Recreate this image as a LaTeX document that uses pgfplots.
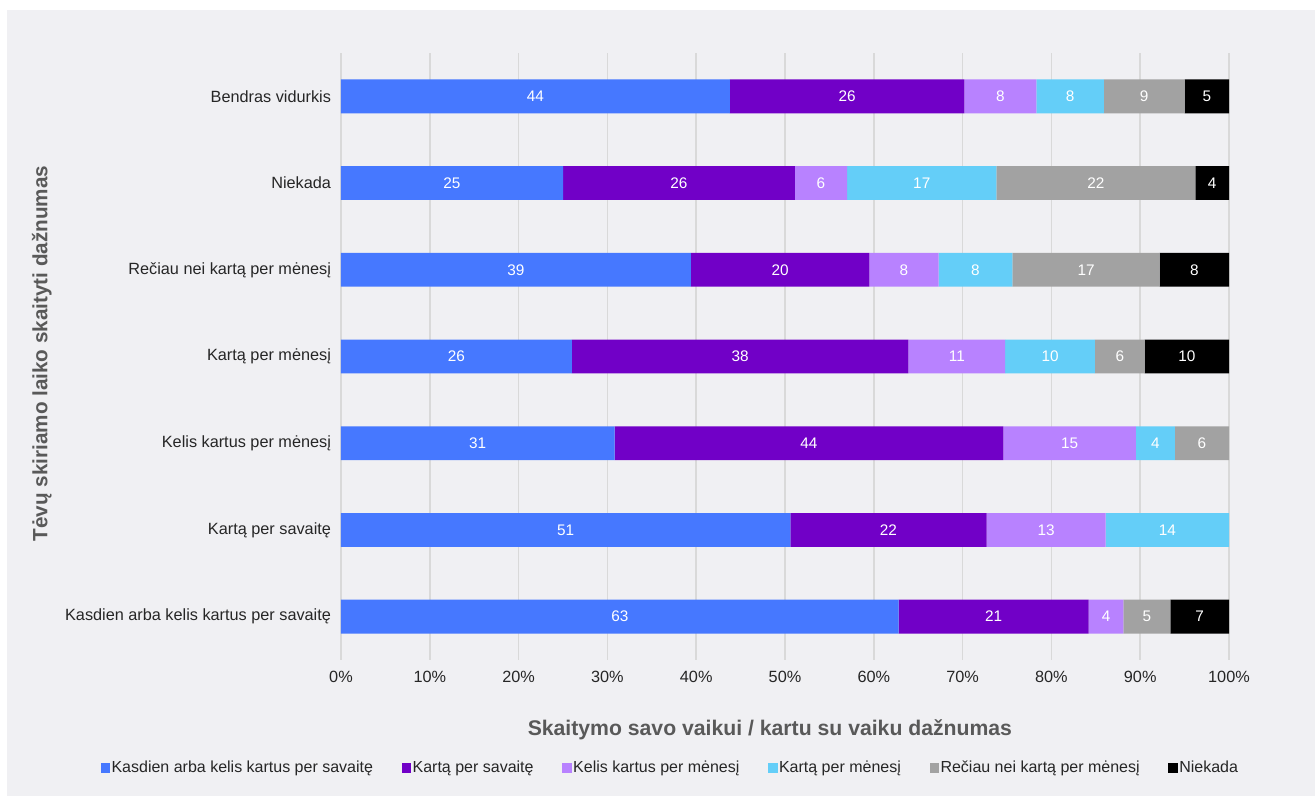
\documentclass[border=0pt]{standalone}
\usepackage{pgfplots}
\pgfplotsset{compat=1.18}
\usepackage{pgfplotstable}
\usepackage{fontspec}
\setmainfont{Liberation Sans}
\definecolor{cA}{HTML}{4678FF}
\definecolor{cB}{HTML}{7100C7}
\definecolor{cC}{HTML}{B882FF}
\definecolor{cD}{HTML}{64CEF8}
\definecolor{cE}{HTML}{A2A2A2}
\definecolor{cF}{HTML}{000000}
\definecolor{bgc}{HTML}{F0F0F3}
\definecolor{gridc}{HTML}{D9D9D9}
\definecolor{titc}{HTML}{595959}
\definecolor{txtc}{HTML}{262626}

\pgfplotstableread{
y a b c d e f
0 62.8 21.4 3.9 0 5.3 6.6
1 50.6 22.1 13.4 13.9 0 0
2 30.8 43.8 14.9 4.4 6.1 0
3 26.0 37.9 10.9 10.1 5.6 9.5
4 39.4 20.1 7.8 8.3 16.6 7.8
5 25.0 26.1 5.9 16.8 22.4 3.8
6 43.8 26.4 8.1 7.6 9.1 5.0
}\datatable

\pgfplotsset{
  seg/.style 2 args={
    fill=#1, draw=none,
    legend image code/.code={\fill[fill=#1] (0pt,-3.6pt) rectangle (7.2pt,3.6pt);},
    visualization depends on={\thisrow{#2} \as \val},
    nodes near coords={\pgfmathparse{int(\val>0.5)}\ifnum\pgfmathresult=1 \pgfmathprintnumber[fixed,precision=0]{\val}\fi},
    every node near coord/.append style={anchor=center, text=white,
      font=\fontsize{11.5}{13}\selectfont},
  }
}

\begin{document}
\begin{tikzpicture}[x=0.75pt,y=0.75pt]
\useasboundingbox (0,0) rectangle (1315,796);
\fill[white] (0,0) rectangle (1315,796);
\fill[bgc] (7,0) rectangle (1315,786);
\begin{axis}[
  at={(255.75pt,102pt)}, anchor=south west,
  scale only axis, width=666pt, height=455.25pt,
  xbar stacked, bar width=0.39,
  xmin=0, xmax=100, ymin=-0.5, ymax=6.5,
  ytick={0,...,6},
  yticklabels={Kasdien arba kelis kartus per savaitę, Kartą per savaitę, Kelis kartus per mėnesį, Kartą per mėnesį, Rečiau nei kartą per mėnesį, Niekada, Bendras vidurkis},
  xtick={0,10,...,100},
  xticklabel={\pgfmathprintnumber{\tick}\%},
  /pgf/number format/assume math mode=true,
  tick label style={font=\fontsize{12.2}{14}\selectfont, text=txtc},
  xticklabel style={yshift=-5pt},
  yticklabel style={xshift=-4pt},
  major tick length=0pt,
  axis line style={draw=none},
  xmajorgrids, grid style={gridc, line width=1.2pt},
  xlabel={Skaitymo savo vaikui / kartu su vaiku dažnumas},
  xlabel style={at={(axis description cs:0.483,-0.1153)}, anchor=center, font=\fontsize{15.9}{18}\selectfont\bfseries, text=titc},
  ylabel={Tėvų skiriamo laiko skaityti dažnumas},
  ylabel style={at={(axis description cs:-0.337,0.505)}, anchor=center, rotate=0, font=\fontsize{15.5}{18}\selectfont\bfseries, text=titc},
  legend columns=6,
  legend style={at={(axis description cs:0.3705,-0.178)}, anchor=center, draw=none, fill=none,
    font=\fontsize{12}{14}\selectfont, text=txtc,
    /tikz/every even column/.append style={column sep=20.5pt},
    nodes={inner sep=1pt}},
]
\addplot[seg={cA}{a}] table[x=a,y=y]{\datatable};
\addplot[seg={cB}{b}] table[x=b,y=y]{\datatable};
\addplot[seg={cC}{c}] table[x=c,y=y]{\datatable};
\addplot[seg={cD}{d}] table[x=d,y=y]{\datatable};
\addplot[seg={cE}{e}] table[x=e,y=y]{\datatable};
\addplot[seg={cF}{f}] table[x=f,y=y]{\datatable};
\legend{Kasdien arba kelis kartus per savaitę, Kartą per savaitę, Kelis kartus per mėnesį, Kartą per mėnesį, Rečiau nei kartą per mėnesį, Niekada}
\end{axis}
\end{tikzpicture}
\end{document}
